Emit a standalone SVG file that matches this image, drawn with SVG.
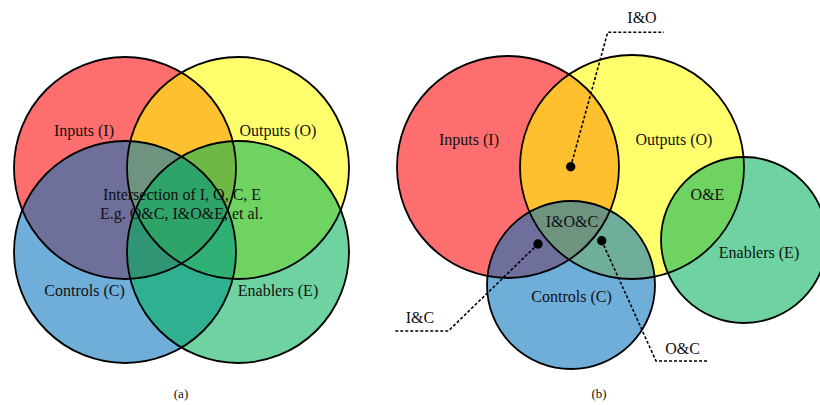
<svg xmlns="http://www.w3.org/2000/svg" width="820" height="405" viewBox="0 0 820 405">
  <style>
    .set{fill-opacity:0.57;stroke:none}
    .i{fill:#FF0000}
    .o{fill:#FFFF00}
    .c{fill:#0071BC}
    .e{fill:#00B258}
    .ring{fill:none;stroke:#000;stroke-width:1.8}
    text{font-family:"Liberation Serif","Times New Roman",serif;font-size:16px;fill:#111;text-anchor:middle}
    .cap{font-size:13px}
    .lead{fill:none;stroke:#000;stroke-width:1.6;stroke-dasharray:3 2}
    .dot{fill:#000}
  </style>

  <rect width="820" height="405" fill="#fff"/>

  <!-- (a) four-set overlap -->
  <g id="a-inputs"><circle class="set i" cx="125" cy="168" r="111"/><text x="84" y="136">Inputs (I)</text></g>
  <g id="a-outputs"><circle class="set o" cx="238" cy="168" r="111"/><text x="278" y="136">Outputs (O)</text></g>
  <g id="a-controls"><circle class="set c" cx="125" cy="252" r="111"/><text x="84.5" y="296">Controls (C)</text></g>
  <g id="a-enablers"><circle class="set e" cx="238" cy="252" r="111"/><text x="278" y="296">Enablers (E)</text></g>
  <g id="a-rings">
    <circle class="ring" cx="125" cy="168" r="111"/>
    <circle class="ring" cx="238" cy="168" r="111"/>
    <circle class="ring" cx="125" cy="252" r="111"/>
    <circle class="ring" cx="238" cy="252" r="111"/>
  </g>
  <g id="a-center">
    <text x="182" y="200">Intersection of I, O, C, E</text>
    <text x="181.5" y="219">E.g. O&amp;C, I&amp;O&amp;E, et al.</text>
  </g>
  <text class="cap" x="181" y="398">(a)</text>

  <!-- (b) partial overlaps with callouts -->
  <g id="b-inputs"><circle class="set i" cx="508" cy="167" r="111"/><text x="469" y="145">Inputs (I)</text></g>
  <g id="b-outputs"><circle class="set o" cx="632" cy="167" r="112"/><text x="674" y="145">Outputs (O)</text></g>
  <g id="b-controls"><circle class="set c" cx="571" cy="285" r="84"/><text x="571.5" y="302">Controls (C)</text></g>
  <g id="b-enablers"><circle class="set e" cx="744" cy="240" r="83"/><text x="759" y="258">Enablers (E)</text></g>
  <g id="b-rings">
    <circle class="ring" cx="508" cy="167" r="111"/>
    <circle class="ring" cx="632" cy="167" r="112"/>
    <circle class="ring" cx="571" cy="285" r="84"/>
    <circle class="ring" cx="744" cy="240" r="83"/>
  </g>
  <g id="b-regions">
    <text x="572" y="227">I&amp;O&amp;C</text>
    <text x="707.5" y="199.5">O&amp;E</text>
  </g>

  <g id="connectors">
    <polyline class="lead" points="570.7,166.7 607.7,32.3 664,32.3"/>
    <polyline class="lead" points="538,244 448.3,331 395,331"/>
    <polyline class="lead" points="601.7,240.7 656,361 707.7,361"/>
    <circle class="dot" cx="570.7" cy="166.7" r="4.7"/>
    <circle class="dot" cx="538" cy="244" r="4.7"/>
    <circle class="dot" cx="601.7" cy="240.7" r="4.7"/>
    <text x="642" y="23">I&amp;O</text>
    <text x="420" y="323">I&amp;C</text>
    <text x="682.5" y="353.5">O&amp;C</text>
  </g>
  <text class="cap" x="599" y="398">(b)</text>
</svg>
